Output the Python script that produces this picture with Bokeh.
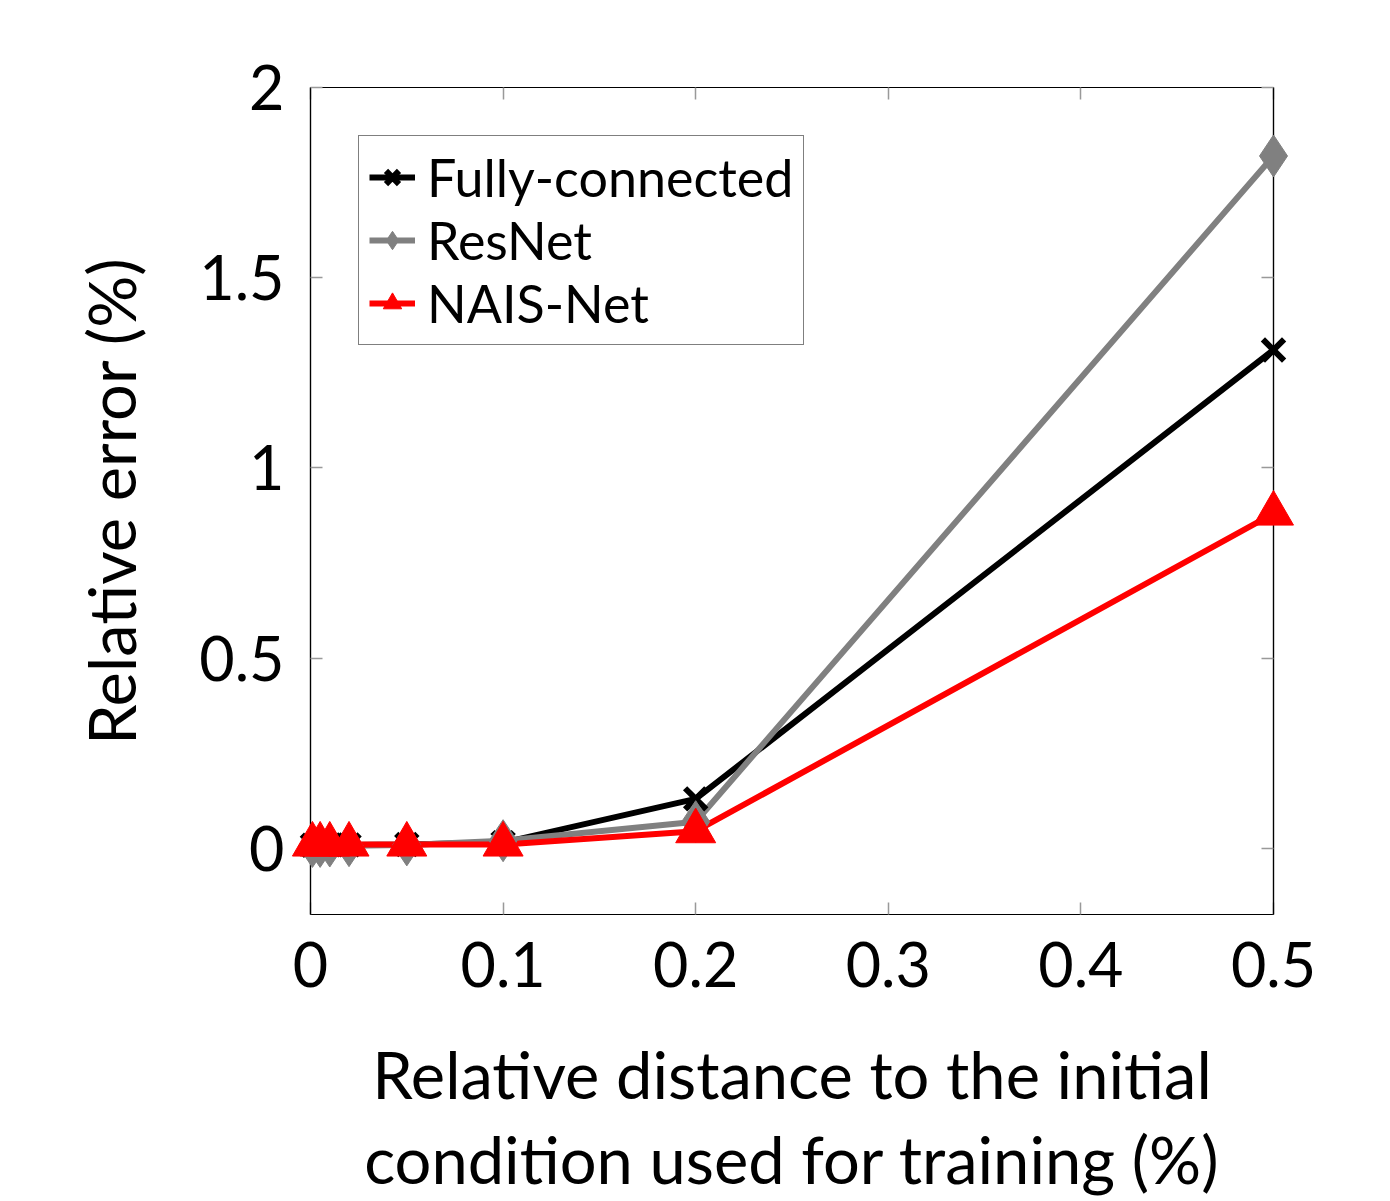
from bokeh.plotting import figure
from bokeh.models import Range1d, FixedTicker, LinearAxis, Title, Legend, LegendItem
from bokeh.embed import file_html
from bokeh.resources import INLINE

x = [0.001, 0.005, 0.01, 0.02, 0.05, 0.1, 0.2, 0.5]
fully_connected = [0.008, 0.008, 0.009, 0.009, 0.010, 0.015, 0.13, 1.31]
resnet = [0.005, 0.005, 0.006, 0.007, 0.009, 0.020, 0.07, 1.82]
nais_net = [0.010, 0.010, 0.010, 0.010, 0.010, 0.010, 0.045, 0.88]

x_ticks = [0, 0.1, 0.2, 0.3, 0.4, 0.5]
x_tick_labels = ["0", "0.1", "0.2", "0.3", "0.4", "0.5"]
y_ticks = [0, 0.5, 1, 1.5, 2]
y_tick_labels = ["0", "0.5", "1", "1.5", "2"]

FONT = "Lato"

p = figure(width=1390, height=1201, output_backend="svg", toolbar_location=None,
           x_range=Range1d(0, 0.5), y_range=Range1d(-0.174, 2.0),
           min_border_left=310, min_border_right=117, min_border_top=87, min_border_bottom=287)
p.xgrid.visible = False
p.ygrid.visible = False
p.outline_line_color = "black"
p.outline_line_width = 1.2
p.background_fill_color = "white"
p.border_fill_color = "white"

def style_axis(ax, ticks, labels, show_labels=True):
    ax.ticker = FixedTicker(ticks=ticks)
    ax.major_label_overrides = {t: l for t, l in zip(ticks, labels)}
    ax.major_tick_in = 12
    ax.major_tick_out = 0
    ax.minor_tick_in = 0
    ax.minor_tick_out = 0
    ax.major_tick_line_color = "#999999"
    ax.major_tick_line_width = 1.5
    ax.axis_line_color = "black"
    ax.axis_line_width = 1.2
    ax.major_label_text_font = FONT
    ax.major_label_text_font_size = "61px"
    ax.major_label_text_color = "black"
    ax.axis_label_text_font = FONT
    ax.axis_label_text_font_size = "65px"
    ax.axis_label_text_font_style = "normal"
    ax.axis_label_text_color = "black"
    if not show_labels:
        ax.major_label_text_alpha = 0.0
        ax.major_label_text_font_size = "1px"

style_axis(p.xaxis[0], x_ticks, x_tick_labels)
style_axis(p.yaxis[0], y_ticks, y_tick_labels)
p.xaxis[0].major_label_standoff = 27
p.xaxis[0].axis_label = "Relative distance to the initial"
p.xaxis[0].axis_label_standoff = 45
p.yaxis[0].major_label_standoff = 26
p.yaxis[0].major_label_orientation = "horizontal"
p.yaxis[0].axis_label = "Relative error (%)"
p.yaxis[0].axis_label_standoff = 46

top = LinearAxis()
style_axis(top, x_ticks, x_tick_labels, show_labels=False)
p.add_layout(top, "above")
right = LinearAxis()
style_axis(right, y_ticks, y_tick_labels, show_labels=False)
p.add_layout(right, "right")

line2 = Title(text="condition used for training (%)", align="center",
              text_font=FONT, text_font_size="65px", text_font_style="normal",
              text_color="black", standoff=5)
p.add_layout(line2, "below")

lw = 6
l1 = p.line(x, fully_connected, line_color="black", line_width=lw)
s1 = p.scatter(x, fully_connected, marker="x", size=30, line_color="black", line_width=6, level="overlay")
l2 = p.line(x, resnet, line_color="#808080", line_width=lw)
s2 = p.scatter(x, resnet, marker="diamond", size=42, fill_color="#808080", line_color="#808080", level="overlay")
l3 = p.line(x, nais_net, line_color="red", line_width=lw)
s3 = p.scatter(x, nais_net, marker="triangle", size=40, fill_color="red", line_color="red", level="overlay")

legend = Legend(items=[
    LegendItem(label="Fully-connected", renderers=[l1, s1]),
    LegendItem(label="ResNet", renderers=[l2, s2]),
    LegendItem(label="NAIS-Net", renderers=[l3, s3]),
], location="top_left")
legend.label_text_font = FONT
legend.label_text_font_size = "52px"
legend.label_text_color = "black"
legend.label_text_line_height = 1.0
legend.glyph_width = 46
legend.glyph_height = 46
legend.label_height = 46
legend.spacing = 1
legend.padding = 10
legend.margin = 48
legend.label_standoff = 12
legend.border_line_color = "black"
legend.border_line_width = 1.2
legend.background_fill_alpha = 1.0
p.add_layout(legend)

open("out.html", "w").write(file_html(p, INLINE))
